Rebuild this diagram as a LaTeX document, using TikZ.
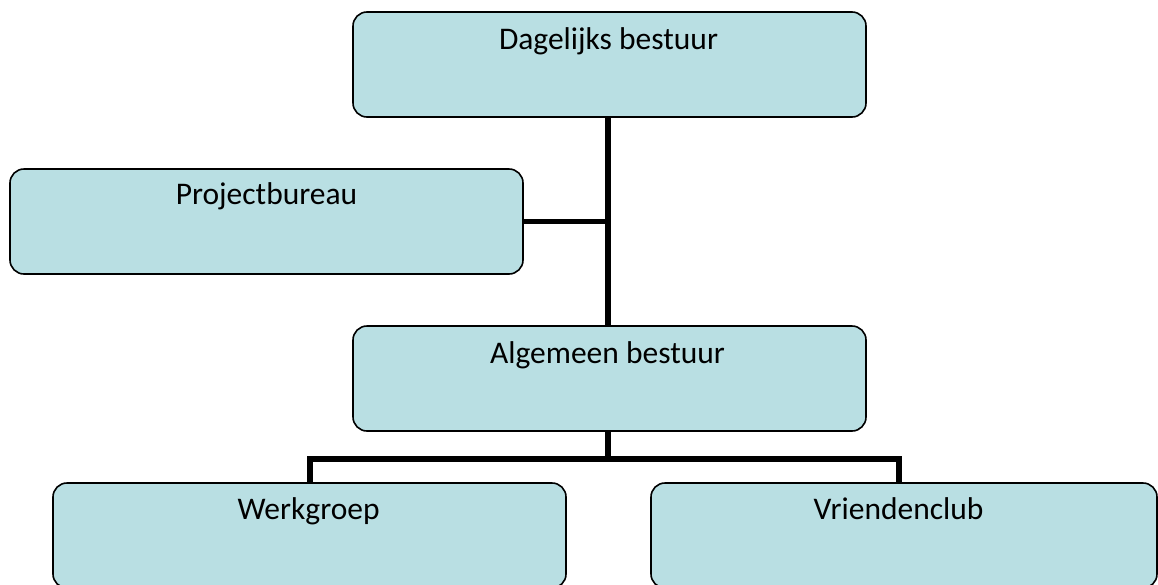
\documentclass[tikz,border=0pt]{standalone}
\usepackage{fontspec}
\setmainfont{Carlito}
\definecolor{boxfill}{HTML}{B9DFE3}
\begin{document}
\begin{tikzpicture}[x=1pt,y=-1pt,
  box/.style={draw=black, line width=1.6pt, fill=boxfill, rounded corners=14pt,
    minimum width=513pt, minimum height=105pt, inner sep=0pt, outer sep=0pt, anchor=north west},
  lbl/.style={anchor=base, font=\fontsize{31.5}{36}\selectfont, inner sep=0pt},
  conn/.style={line width=5.5pt, draw=black, line join=miter}]
\useasboundingbox (0,0) rectangle (1158,584);
\clip (0,0) rectangle (1158,584);
\node[box] (db) at (353,12) {};
\node[box] (pb) at (10,169) {};
\node[box] (ab) at (353,326) {};
\node[box] (wg) at (53,483) {};
\node[box, minimum width=506pt] (vc) at (651,483) {};
\node[lbl] (dbt) at (608.5,49) {Dagelijks bestuur};
\node[lbl] (pbt) at (266.5,204) {Projectbureau};
\node[lbl] (abt) at (607.5,363) {Algemeen bestuur};
\node[lbl] (wgt) at (308.5,519) {Werkgroep};
\node[lbl] (vct) at (898.5,519) {Vriendenclub};
\coordinate (bus) at (608,459);
\coordinate (vcin) at (899,483);
\draw[conn] (db.south -| bus) -- (ab.north -| bus);
\draw[conn] (pb.east) -- (pb.east -| bus);
\draw[conn] (ab.south -| bus) -- (bus);
\draw[conn] (wg.north -| 310,0) |- (bus) -| (vcin);
\end{tikzpicture}
\end{document}
